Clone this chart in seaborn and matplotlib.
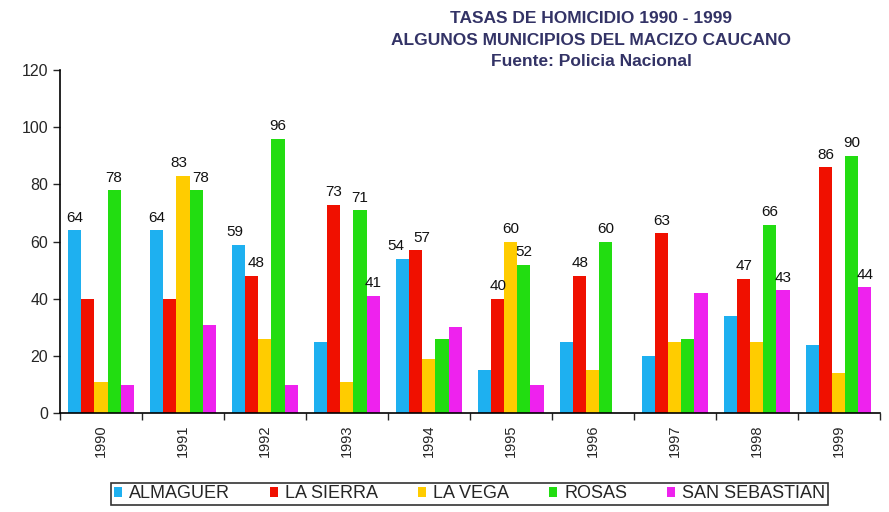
import matplotlib
matplotlib.use("Agg")
import matplotlib.pyplot as plt
import seaborn as sns
import pandas as pd
import numpy as np

# datos
years = ["1990", "1991", "1992", "1993", "1994", "1995", "1996", "1997", "1998", "1999"]
municipios = ["ALMAGUER", "LA SIERRA", "LA VEGA", "ROSAS", "SAN SEBASTIAN"]
almaguer = [64, 64, 59, 25, 54, 15, 25, 20, 34, 24]
la_sierra = [40, 40, 48, 73, 57, 40, 48, 63, 47, 86]
la_vega = [11, 83, 26, 11, 19, 60, 15, 25, 25, 14]
rosas = [78, 78, 96, 71, 26, 52, 60, 26, 66, 90]
san_sebastian = [10, 31, 10, 41, 30, 10, 0, 42, 43, 44]
# que barras llevan etiqueta (1 = si)
lab_almaguer = [1, 1, 1, 0, 1, 0, 0, 0, 0, 0]
lab_la_sierra = [0, 0, 1, 1, 1, 1, 1, 1, 1, 1]
lab_la_vega = [0, 1, 0, 0, 0, 1, 0, 0, 0, 0]
lab_rosas = [1, 1, 1, 1, 0, 1, 1, 0, 1, 1]
lab_san_sebastian = [0, 0, 0, 1, 0, 0, 0, 0, 1, 1]

colors = ["#1EB0F0", "#F01000", "#FFCC00", "#22DD11", "#EE22EE"]

series = [almaguer, la_sierra, la_vega, rosas, san_sebastian]
labels = [lab_almaguer, lab_la_sierra, lab_la_vega, lab_rosas, lab_san_sebastian]

rows = []
for m, vals in zip(municipios, series):
    for y, v in zip(years, vals):
        rows.append({"year": y, "municipio": m, "tasa": v})
df = pd.DataFrame(rows)

sns.set_style("white")
plt.rcParams["font.family"] = ["Liberation Sans", "DejaVu Sans"]

fig = plt.figure(figsize=(8.89, 5.12), dpi=100)
ax = fig.add_axes([0.0675, 0.193, 0.922, 0.670])

sns.barplot(data=df, x="year", y="tasa", hue="municipio", palette=colors,
            hue_order=municipios, order=years, width=0.8, saturation=1,
            linewidth=0, edgecolor="none", ax=ax, legend=True)

# etiquetas vecinas: se separan un poco (serie, año) -> desplazamiento x en puntos
nudge = {(0, 4): -5, (1, 4): 4, (2, 1): -3, (3, 1): 3, (0, 2): -3, (1, 2): 3}

for k, (cont, vals, labs) in enumerate(zip(ax.containers, series, labels)):
    txt = [str(v) if l else "" for v, l in zip(vals, labs)]
    anns = ax.bar_label(cont, labels=txt, padding=4, fontsize=11, color="#111111")
    for j, a in enumerate(anns):
        if (k, j) in nudge:
            a.xyann = (nudge[(k, j)], 4)

ax.set_ylim(0, 120)
ax.set_xlim(-0.5, len(years) - 0.5)
ax.set_yticks(range(0, 121, 20))
ax.set_xlabel("")
ax.set_ylabel("")
ax.set_xticks(range(len(years)))
ax.set_xticklabels(years, rotation=90, fontsize=10.5)
ax.set_xticks(np.arange(-0.5, len(years), 1), minor=True)
ax.tick_params(axis="x", which="major", length=0, pad=8)
ax.tick_params(axis="x", which="minor", length=5, width=1, direction="out", bottom=True)
ax.tick_params(axis="y", length=5, width=1, direction="out", left=True, labelsize=11.5)
for s in ["top", "right"]:
    ax.spines[s].set_visible(False)
for s in ["left", "bottom"]:
    ax.spines[s].set_color("black")
    ax.spines[s].set_linewidth(1.2)

h, l = ax.get_legend_handles_labels()
ax.legend_.remove()
leg = fig.legend(h, l, loc="center", bbox_to_anchor=(0.528, 0.0352), ncol=5,
                 frameon=True, fancybox=False, edgecolor="black", fontsize=13,
                 handlelength=0.45, handleheight=0.45, handletextpad=0.4,
                 columnspacing=2.2, borderpad=0.15, borderaxespad=0)
leg.get_frame().set_linewidth(1.2)

tc = "#333366"
fig.text(0.665, 0.963, "TASAS DE HOMICIDIO 1990 - 1999", ha="center", va="center",
         fontsize=12.5, fontweight="bold", color=tc)
fig.text(0.665, 0.921, "ALGUNOS MUNICIPIOS DEL MACIZO CAUCANO", ha="center", va="center",
         fontsize=12.5, fontweight="bold", color=tc)
fig.text(0.665, 0.879, "Fuente: Policia Nacional", ha="center", va="center",
         fontsize=12.5, fontweight="bold", color=tc)

fig.savefig("out.png", dpi=100)
